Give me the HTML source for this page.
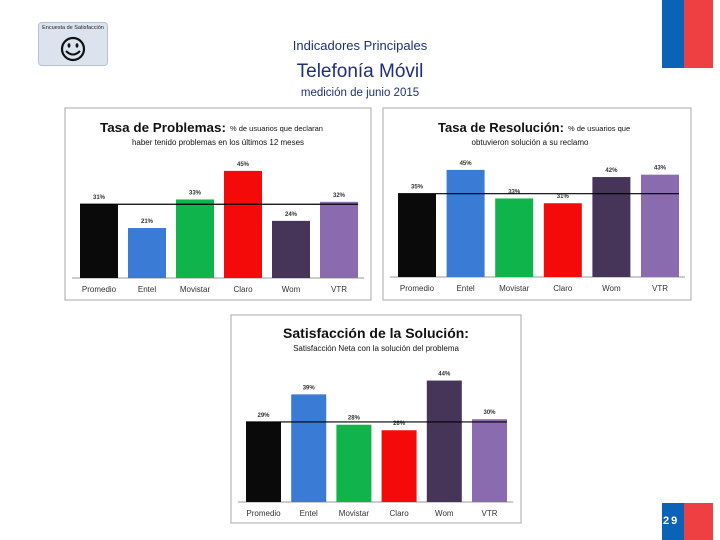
<!DOCTYPE html>
<html><head><meta charset="utf-8">
<style>
body{margin:0;width:720px;height:540px;position:relative;background:#fff;font-family:"Liberation Sans",sans-serif;overflow:hidden}
.abs{position:absolute}
.t{position:absolute;left:0;width:720px;text-align:center;color:#1f2f7a;font-family:"Liberation Sans",sans-serif}
</style></head><body>
<div class="abs" style="left:38px;top:22px;width:70px;height:44px;background:#dbe3ee;border:1px solid #b8c2d0;border-radius:4px;box-sizing:border-box">
<div style="font-size:5.5px;text-align:center;margin-top:2px;color:#222">Encuesta de Satisfacción</div>
<svg width="70" height="34" style="position:absolute;left:-1px;top:9px">
<circle cx="35" cy="17" r="11" fill="none" stroke="#111" stroke-width="2.2"/>
<ellipse cx="31" cy="13.5" rx="1.4" ry="2.2" fill="#111"/><ellipse cx="39" cy="13.5" rx="1.4" ry="2.2" fill="#111"/>
<path d="M28 19 Q35 26 42 19" fill="none" stroke="#111" stroke-width="2"/></svg></div>
<div class="t" style="top:38px;font-size:13px">Indicadores Principales</div>
<div class="t" style="top:61px;font-size:19px">Telefonía Móvil</div>
<div class="t" style="top:87px;font-size:11.5px">medición de junio 2015</div>
<div class="abs" style="left:662px;top:0;width:22px;height:68px;background:#0a63b7"></div>
<div class="abs" style="left:684px;top:0;width:29px;height:68px;background:#ee3f43"></div>
<div class="abs" style="left:662px;top:503px;width:22px;height:37px;background:#0a63b7;color:#fff;font-size:11px;font-weight:bold;letter-spacing:2px;line-height:37px;padding-left:1px;box-sizing:border-box">29</div>
<div class="abs" style="left:684px;top:503px;width:29px;height:37px;background:#ee3f43"></div>
<svg id="svg" width="720" height="540" class="abs" style="left:0;top:0"></svg>
<script>
const categories=["Promedio","Entel","Movistar","Claro","Wom","VTR"];
const problemasValues=[31,21,33,45,24,32];
const problemasLabels=["31%","21%","33%","45%","24%","32%"];
const resolucionValues=[35,45,33,31,42,43];
const resolucionLabels=["35%","45%","33%","31%","42%","43%"];
const satisfaccionValues=[29,39,28,26,44,30];
const satisfaccionLabels=["29%","39%","28%","26%","44%","30%"];
const colors=["#0a0a0a","#3a7bd5","#0fb54a","#f50a0a","#463558","#8a6bb0"];
const NS="http://www.w3.org/2000/svg";
const svg=document.getElementById('svg');
function mk(tag,attrs,parent){const e=document.createElementNS(NS,tag);for(const k in attrs)e.setAttribute(k,attrs[k]);(parent||svg).appendChild(e);return e;}
function chart(o){
  const g=mk('g',{});
  
  
  const fr=mk('rect',{x:o.bx,y:o.by,width:o.bw,height:o.bh,fill:'#fff',stroke:'#aaa','stroke-width':1},g);
  
  
  const y=v=>o.base-v*o.scale;
  const x=i=>o.x0+i*o.step;
  mk('line',{x1:o.x0-8,x2:x(5)+o.bwid+6,y1:o.base,y2:o.base,stroke:'#999'},g);
  for(let i=0;i<categories.length;i++){
    const r=mk('rect',{x:x(i),y:y(o.values[i]),width:o.bwid,height:o.values[i]*o.scale,fill:colors[i]},g);
    
    
    const t=mk('text',{x:x(i)+o.bwid/2,y:y(o.values[i])-5,'text-anchor':'middle','font-size':6,'font-weight':'bold',fill:'#333'},g);
    t.textContent=o.labels[i];
    
    
    const c=mk('text',{x:x(i)+o.bwid/2,y:o.base+14,'text-anchor':'middle','font-size':8,fill:'#333'},g);
    c.textContent=categories[i];
    
    
  }
  const ln=mk('line',{x1:x(0),x2:x(5)+o.bwid,y1:y(o.values[0]),y2:y(o.values[0]),stroke:'#000','stroke-width':1.2},g);
  
  
  o.titles.forEach(tt=>{const a={x:tt[0],y:tt[1],'font-size':tt[3],'font-weight':tt[4]?'bold':'normal','text-anchor':tt[5]||'start',fill:'#111'};
    if(tt[6]){a.textLength=tt[6];a.lengthAdjust='spacingAndGlyphs';}
    const t=mk('text',a,g);
    t.textContent=tt[2];
    
    });
}
chart({name:'problemas-chart',bx:65,by:108,bw:306,bh:192,base:278,scale:2.38,x0:80,step:48,bwid:38,values:problemasValues,labels:problemasLabels,
 titles:[[100,132,'Tasa de Problemas:',13,true,'start',126],[230,131,'% de usuarios que declaran',7.5],[218,145,'haber tenido problemas en los últimos 12 meses',8,false,'middle']]});
chart({name:'resolucion-chart',bx:383,by:108,bw:308,bh:192,base:277,scale:2.38,x0:398,step:48.6,bwid:38,values:resolucionValues,labels:resolucionLabels,
 titles:[[438,132,'Tasa de Resolución:',13,true,'start',126],[568,131,'% de usuarios que',7.5],[530,145,'obtuvieron solución a su reclamo',8,false,'middle']]});
chart({name:'satisfaccion-chart',bx:231,by:315,bw:290,bh:208,base:502,scale:2.76,x0:246,step:45.2,bwid:35,values:satisfaccionValues,labels:satisfaccionLabels,
 titles:[[376,338,'Satisfacción de la Solución:',14,true,'middle'],[376,351,'Satisfacción Neta con la solución del problema',8,false,'middle']]});
</script>
</body></html>
